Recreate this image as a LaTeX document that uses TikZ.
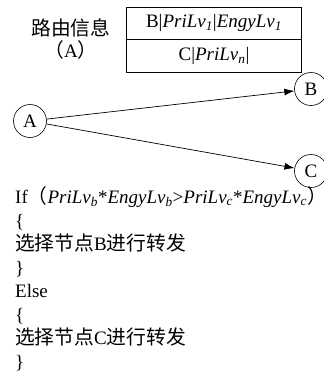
\documentclass[tikz,border=0pt]{standalone}
\usepackage{fontspec}
\setmainfont{Liberation Serif}
\newfontfamily\cjk[Scale=1.04]{Noto Sans CJK SC}
\usetikzlibrary{arrows.meta}
\newcommand\sbs[1]{\textsubscript{\textit{#1}}}
\begin{document}
\begin{tikzpicture}[x=1pt,y=-1pt,
  txt/.style={inner sep=0pt,font=\fontsize{19}{22}\selectfont},
  codeline/.style={txt,anchor=base west},
  nodecirc/.style={circle,draw,line width=0.6pt,minimum size=33pt,inner sep=0pt,font=\fontsize{19}{22}\selectfont},
  arr/.style={line width=0.7pt,-{Latex[length=10pt,width=7pt]}},
  tbl/.style={line width=0.7pt}]
\useasboundingbox (0,0) rectangle (324,376);
% routing info label
\node[txt] (lbl1) at (71,28) {\cjk 路由信息};
\node[txt] (lbl2) at (71,50) {\cjk （\normalfont A\cjk ）};
% table
\draw[tbl] (126,7) rectangle (301,72);
\draw[tbl] (126,39) -- (301,39);
\node[txt] (r1) at (214,23) {B|\textit{PriLv}\sbs{1}|\textit{EngyLv}\sbs{1}};
\node[txt] (r2) at (214,56) {C|\textit{PriLv}\sbs{n}|};
% nodes
\node[nodecirc] (A) at (30,121) {A};
\node[nodecirc] (B) at (311,89) {B};
\node[nodecirc] (C) at (311,171) {C};
\draw[arr] (A) -- (B);
\draw[arr] (A) -- (C);
% code
\node[codeline] (l1) at (15,203) {If{\cjk （}\textit{PriLv}\sbs{b}*\textit{EngyLv}\sbs{b}>\textit{PriLv}\sbs{c}*\textit{EngyLv}\sbs{c}{\cjk ）}};
\node[codeline] (l2) at (15,227) {\{};
\node[codeline] (l3) at (15,250) {\cjk 选择节点\normalfont B\cjk 进行转发};
\node[codeline] (l4) at (15,274) {\}};
\node[codeline] (l5) at (15,297) {Else};
\node[codeline] (l6) at (15,321) {\{};
\node[codeline] (l7) at (15,344) {\cjk 选择节点\normalfont C\cjk 进行转发};
\node[codeline] (l8) at (15,368) {\}};
\end{tikzpicture}
\end{document}
